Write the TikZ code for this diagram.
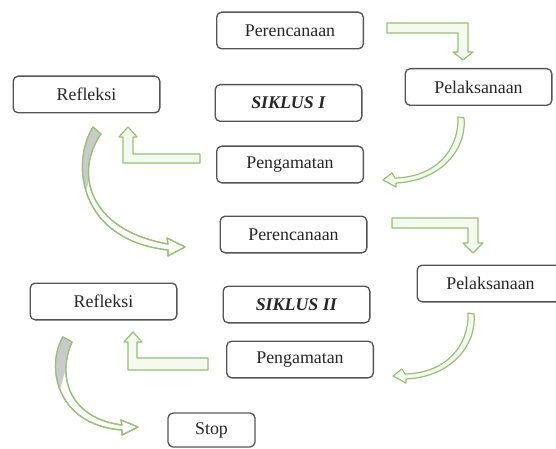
\documentclass[tikz,border=0pt]{standalone}
\usepackage{fontspec}
\setmainfont{Liberation Serif}
\definecolor{boxline}{RGB}{85,85,85}
\definecolor{arrgreen}{RGB}{150,192,115}
\definecolor{arrfill}{RGB}{245,250,240}
\definecolor{arrgray}{RGB}{200,203,200}
\begin{document}
\begin{tikzpicture}[x=0.75pt,y=-0.75pt,
  box/.style={draw=boxline,line width=1pt,rounded corners=3.75pt,fill=white,
    inner sep=0pt,outer sep=0pt,minimum width=110pt,minimum height=27.5pt,
    font=\fontsize{13.4}{16}\selectfont,text=black!85},
  garrow/.style={draw=arrgreen,line width=0.9pt,fill=arrfill,line join=round},
  gshade/.style={fill=arrgray,draw=none}]
\clip (0,0) rectangle (556,449);
\fill[white] (0,0) rectangle (556,449);
% boxes cycle I
\node[box] (per1) at (290,30.5) {Perencanaan};
\node[box] (sik1) at (288.5,103) {\textbf{\textit{SIKLUS I}}};
\node[box] (pen1) at (290,164.5) {Pengamatan};
\node[box] (pel1) at (478.5,87) {Pelaksanaan};
\node[box] (ref1) at (86.5,94.5) {Refleksi};
% boxes cycle II
\node[box] (per2) at (293.5,234.5) {Perencanaan};
\node[box] (sik2) at (296.5,304.5) {\textbf{\textit{SIKLUS II}}};
\node[box] (pen2) at (300,359.5) {Pengamatan};
\node[box] (pel2) at (490.5,283.5) {Pelaksanaan};
\node[box] (ref2) at (103.5,301.5) {Refleksi};
\node[box,minimum width=65.25pt,minimum height=25.5pt] (stop) at (211.5,430) {Stop};
% bent arrow per1 -> pel1
\draw[garrow] (387,23) -- (468,23) -- (468,52) -- (473,52) -- (463,60) -- (453,52) -- (458,52) -- (458,33) -- (387,33) -- cycle;
% bent arrow per2 -> pel2
\draw[garrow] (392,218) -- (478,218) -- (478,243) -- (483,243) -- (473,253) -- (463,243) -- (468,243) -- (468,228) -- (392,228) -- cycle;
% bent arrow pen1 -> ref1
\draw[garrow] (200,154) -- (133,154) -- (133,137) -- (137,137) -- (128,127) -- (119,137) -- (123,137) -- (123,163) -- (200,163) -- cycle;
% bent arrow pen2 -> ref2
\draw[garrow] (208,358) -- (137,358) -- (137,342) -- (142,342) -- (133,332) -- (124,342) -- (128,342) -- (128,370) -- (208,370) -- cycle;
% curved arrow pel1 -> pen1
\draw[garrow] (464,118) .. controls (467,150) and (440,181) .. (396,183) -- (396,187) -- (383,180) -- (392,173) -- (395,178) .. controls (436,177) and (459,150) .. (458,117) -- cycle;
% curved arrow pel2 -> pen2
\begin{scope}[shift={(10,196)}]
\draw[garrow] (464,118) .. controls (467,150) and (440,181) .. (396,183) -- (396,187) -- (383,180) -- (392,173) -- (395,178) .. controls (436,177) and (459,150) .. (458,117) -- cycle;
\end{scope}
% curved arrow ref1 -> per2
\draw[garrow,fill=white] (93,127) .. controls (70,165) and (80,240) .. (168,250) -- (168,256) -- (185,247) -- (167,238) -- (168,244) .. controls (88,230) and (74,172) .. (101,134) -- cycle;
\begin{scope}
\clip (93,127) .. controls (70,165) and (80,240) .. (168,250) -- (168,244) .. controls (88,230) and (74,172) .. (101,134) -- cycle;
\fill[gshade] (60,115) -- (115,115) -- (100,140) -- (85,195) -- (60,195) -- cycle;
\end{scope}
\draw[arrgreen,line width=0.9pt,line join=round] (93,127) .. controls (70,165) and (80,240) .. (168,250) -- (168,256) -- (185,247) -- (167,238) -- (168,244) .. controls (88,230) and (74,172) .. (101,134) -- cycle;
% curved arrow ref2 -> stop
\draw[garrow,fill=white] (63,337) .. controls (46,365) and (55,425) .. (122,430) -- (122,435) -- (138,427) -- (121,420) -- (122,425) .. controls (68,418) and (57,375) .. (72,342) -- cycle;
\begin{scope}
\clip (63,337) .. controls (46,365) and (55,425) .. (122,430) -- (122,425) .. controls (68,418) and (57,375) .. (72,342) -- cycle;
\fill[gshade] (40,325) -- (85,325) -- (72,345) -- (60,390) -- (40,390) -- cycle;
\end{scope}
\draw[arrgreen,line width=0.9pt,line join=round] (63,337) .. controls (46,365) and (55,425) .. (122,430) -- (122,435) -- (138,427) -- (121,420) -- (122,425) .. controls (68,418) and (57,375) .. (72,342) -- cycle;
\end{tikzpicture}
\end{document}
